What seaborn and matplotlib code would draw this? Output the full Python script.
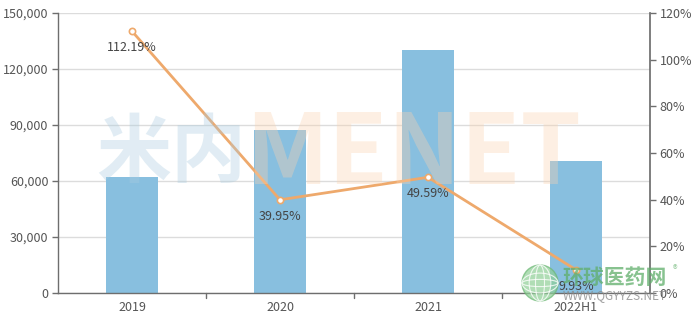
import matplotlib
matplotlib.use("Agg")
import matplotlib.pyplot as plt
import seaborn as sns
import pandas as pd
from matplotlib.ticker import FuncFormatter
from matplotlib.patches import Ellipse

categories = ["2019", "2020", "2021", "2022H1"]
sales = [62100, 87300, 130100, 70700]
growth = [112.19, 39.95, 49.59, 9.93]
growth_labels = ["112.19%", "39.95%", "49.59%", "9.93%"]
left_ticks = [0, 30000, 60000, 90000, 120000, 150000]
right_ticks = [0, 20, 40, 60, 80, 100, 120]

sns.set_theme(style="white")
plt.rcParams['font.family'] = ['Noto Sans CJK SC', 'DejaVu Sans']

df = pd.DataFrame({"cat": categories, "sales": sales, "growth": growth})

fig = plt.figure(figsize=(6.95, 3.18), dpi=100)
ax = fig.add_axes([58/695, 25/318, 592/695, 280/318])

sns.barplot(data=df, x="cat", y="sales", color="#88bfdf", saturation=1,
            width=0.35, ax=ax, zorder=2, linewidth=0)
ax.set_xlim(-0.5, 3.5)
ax.set_ylim(0, 150000)
ax.set_yticks(left_ticks)
ax.yaxis.set_major_formatter(FuncFormatter(lambda v, p: f"{int(v):,}"))
ax.set_xlabel("")
ax.set_ylabel("")
ax.grid(axis="y", color="#dcdcdc", linewidth=1, zorder=0)
ax.set_axisbelow(True)
for s in ["top", "right"]:
    ax.spines[s].set_visible(False)
for s in ["left", "bottom"]:
    ax.spines[s].set_color("#6e6e6e")
    ax.spines[s].set_linewidth(1)
ax.set_xticks([0, 1, 2, 3])
ax.set_xticklabels(categories)
ax.tick_params(axis="x", length=0, labelsize=9, colors="#555555", pad=6)
ax.tick_params(axis="y", length=4, width=1, color="#6e6e6e", labelsize=9,
               labelcolor="#555555", left=True, pad=3)
# category boundary ticks
for b in [0.5, 1.5, 2.5]:
    ax.plot([b, b], [0, -0.018], transform=ax.get_xaxis_transform(),
            color="#6e6e6e", linewidth=1, clip_on=False)

ax2 = ax.twinx()
ax2.set_position(ax.get_position())
sns.lineplot(data=df, x="cat", y="growth", color="#eea96c", linewidth=2,
             marker="o", markersize=4.5, markerfacecolor="white",
             markeredgecolor="#eea96c", markeredgewidth=1.2, ax=ax2, zorder=3)
ax2.set_ylim(0, 120)
ax2.set_yticks(right_ticks)
ax2.yaxis.set_major_formatter(FuncFormatter(lambda v, p: f"{int(v)}%"))
ax2.set_xlabel("")
ax2.set_ylabel("")
ax2.grid(False)
for s in ["top", "left", "bottom"]:
    ax2.spines[s].set_visible(False)
ax2.spines["right"].set_color("#6e6e6e")
ax2.tick_params(axis="y", length=4, width=1, color="#6e6e6e", labelsize=9,
                labelcolor="#555555", right=True, pad=3)

for i, (g, lab) in enumerate(zip(growth, growth_labels)):
    ax2.annotate(lab, (i, g), xytext=(0, -12), textcoords="offset points",
                 ha="center", va="center", fontsize=9, color="#444444", zorder=5)

# watermark
fig.text(0.138, 0.515, "米内", fontsize=54, fontweight="bold", color="#a9cbe0",
         alpha=0.35, ha="left", va="center", zorder=10)
fig.text(0.352, 0.512, "MENET", fontsize=70, fontweight="bold", color="#fbd3b0",
         alpha=0.35, ha="left", va="center", zorder=10)

# logo
globe = Ellipse((540/695, 1 - 283/318), 36/695, 36/318, transform=fig.transFigure,
                facecolor="#8fcf96", edgecolor="#6cb874", alpha=0.7, zorder=9)
fig.patches.append(globe)
for w in [0.6, 0.25]:
    fig.patches.append(Ellipse((540/695, 1 - 283/318), 36*w/695, 36/318,
                               transform=fig.transFigure, facecolor="none",
                               edgecolor="white", linewidth=0.8, alpha=0.8, zorder=9))
for h in [0.55, 0.2]:
    fig.patches.append(Ellipse((540/695, 1 - 283/318), 36/695, 36*h/318,
                               transform=fig.transFigure, facecolor="none",
                               edgecolor="white", linewidth=0.8, alpha=0.8, zorder=9))
fig.text(0.809, 0.129, "环球医药网", fontsize=15, fontweight="bold",
         color="#5fae6a", alpha=0.75, ha="left", va="center", zorder=10)
fig.text(0.968, 0.151, "®", fontsize=7, color="#7fbf86", alpha=0.8,
         ha="left", va="center", zorder=10)
fig.text(0.809, 0.072, "WWW.QGYYZS.NET", fontsize=8.5, color="#8a8a8a",
         alpha=0.8, ha="left", va="center", zorder=10)

fig.savefig("out.png", dpi=100)
